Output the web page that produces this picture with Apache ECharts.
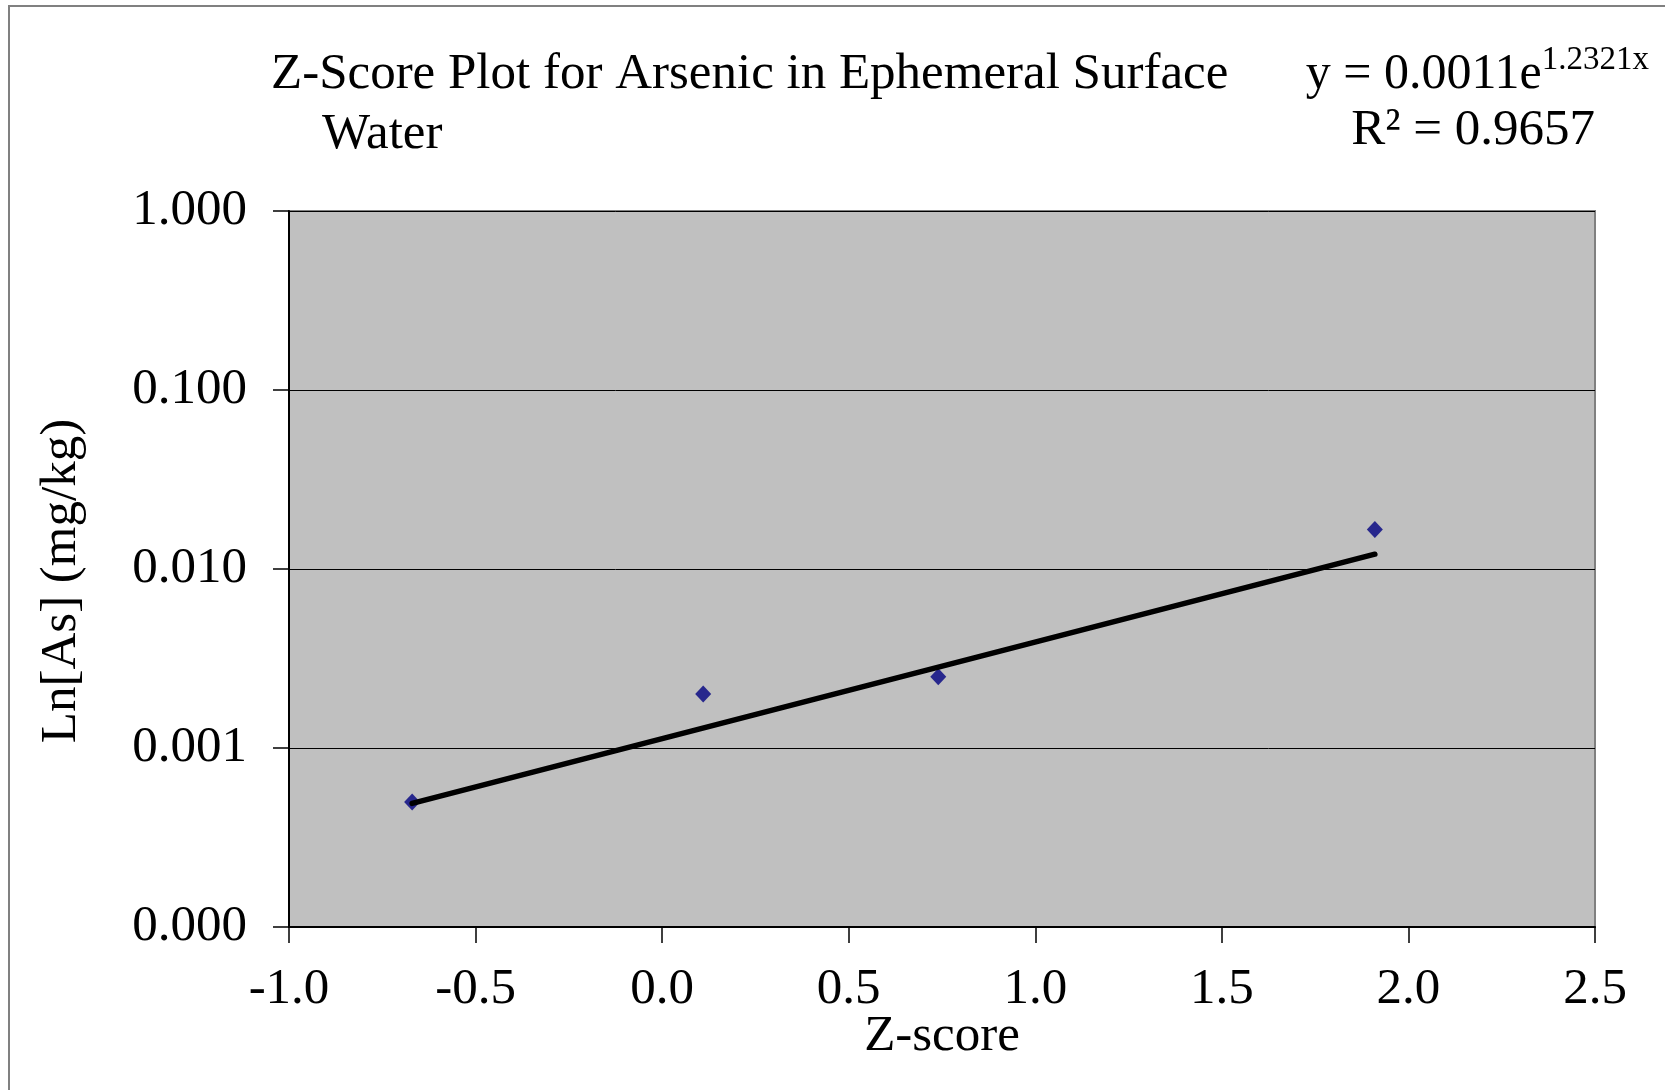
<!DOCTYPE html>
<html>
<head>
<meta charset="utf-8">
<script src="https://cdn.jsdelivr.net/npm/echarts@6/dist/echarts.min.js"></script>
<style>
html,body{margin:0;padding:0;background:#fff;}
#chart{width:1665px;height:1090px;}
</style>
</head>
<body>
<div id="chart"></div>
<script>
// Data
var zScores = [-0.67, 0.11, 0.74, 1.91];
var arsenic = [0.0005, 0.002, 0.0025, 0.0166];
// Trendline endpoints (exponential fit, straight on log axis)
var trendX = [-0.67, 1.91];
var trendY = [0.00049, 0.0121];
var xTicks = [-1.0, -0.5, 0.0, 0.5, 1.0, 1.5, 2.0, 2.5];
var yTicks = [0.0001, 0.001, 0.01, 0.1, 1];
var titleLines = ['Z-Score Plot for Arsenic in Ephemeral Surface', 'Water'];
var eqMain = 'y = 0.0011e';
var eqSup = '1.2321x';
var r2Text = 'R\u00B2 = 0.9657';
var xName = 'Z-score';
var yName = 'Ln[As] (mg/kg)';

var FONT = '"Liberation Serif", "Times New Roman", serif';
var chart = echarts.init(document.getElementById('chart'));

var scatterData = zScores.map(function (z, i) { return [z, arsenic[i]]; });
var trendData = trendX.map(function (x, i) { return [x, trendY[i]]; });

chart.setOption({
  backgroundColor: '#ffffff',
  animation: false,
  grid: {
    left: 289, right: 70, top: 211, bottom: 163,
    show: true, backgroundColor: '#C0C0C0', borderColor: '#808080', borderWidth: 2
  },
  xAxis: {
    type: 'value',
    min: xTicks[0], max: xTicks[xTicks.length - 1], interval: 0.5,
    axisLine: { show: true, onZero: false, lineStyle: { color: '#000', width: 2 } },
    axisTick: { show: true, length: 16, lineStyle: { color: '#000', width: 1.5 } },
    axisLabel: { fontFamily: FONT, fontSize: 51, color: '#000', margin: 37,
      formatter: function (v) { return v.toFixed(1); } },
    splitLine: { show: false }
  },
  yAxis: {
    type: 'log', logBase: 10,
    min: yTicks[0], max: yTicks[yTicks.length - 1], interval: 1,
    axisLine: { show: true, onZero: false, lineStyle: { color: '#000', width: 2 } },
    axisTick: { show: true, length: 16, lineStyle: { color: '#000', width: 1.5 } },
    axisLabel: { fontFamily: FONT, fontSize: 51, color: '#000', margin: 42,
      formatter: function (v) { return Number(v).toFixed(3); } },
    splitLine: { show: true, lineStyle: { color: '#000', width: 1 } },
    minorTick: { show: false }
  },
  graphic: [
    { type: 'rect', shape: { x: 9, y: 6, width: 1800, height: 1200 },
      style: { fill: 'none', stroke: '#808080', lineWidth: 2 }, z: 100, silent: true },
    { type: 'text', left: 271, top: 49,
      style: { text: titleLines[0], font: '51px ' + FONT, fill: '#000' } },
    { type: 'text', left: 322, top: 109,
      style: { text: titleLines[1], font: '51px ' + FONT, fill: '#000' } },
    { type: 'text', right: 16, top: 38,
      style: {
        text: '{m|' + eqMain + '}{s|' + eqSup + '}',
        rich: {
          m: { fontFamily: FONT, fontSize: 50, fill: '#000', verticalAlign: 'bottom', lineHeight: 62 },
          s: { fontFamily: FONT, fontSize: 33, fill: '#000', verticalAlign: 'top', lineHeight: 62, padding: [6, 0, 0, 0] }
        }
      } },
    { type: 'text', right: 70, top: 105,
      style: { text: r2Text, font: '51px ' + FONT, fill: '#000' } },
    { type: 'text', x: 942, y: 1037,
      style: { text: xName, font: '51px ' + FONT, fill: '#000',
        textAlign: 'center', textVerticalAlign: 'middle' } },
    { type: 'text', x: 62, y: 581, rotation: Math.PI / 2,
      style: { text: yName, font: '51px ' + FONT, fill: '#000',
        textAlign: 'center', textVerticalAlign: 'middle' } }
  ],
  series: [
    {
      type: 'scatter', data: scatterData, symbol: 'diamond', symbolSize: [16, 17],
      itemStyle: { color: '#000080' }, z: 2
    },
    {
      type: 'line', data: trendData, showSymbol: false, symbol: 'none',
      lineStyle: { color: '#000', width: 5.5, cap: 'round' }, z: 3
    }
  ]
});
</script>
</body>
</html>
